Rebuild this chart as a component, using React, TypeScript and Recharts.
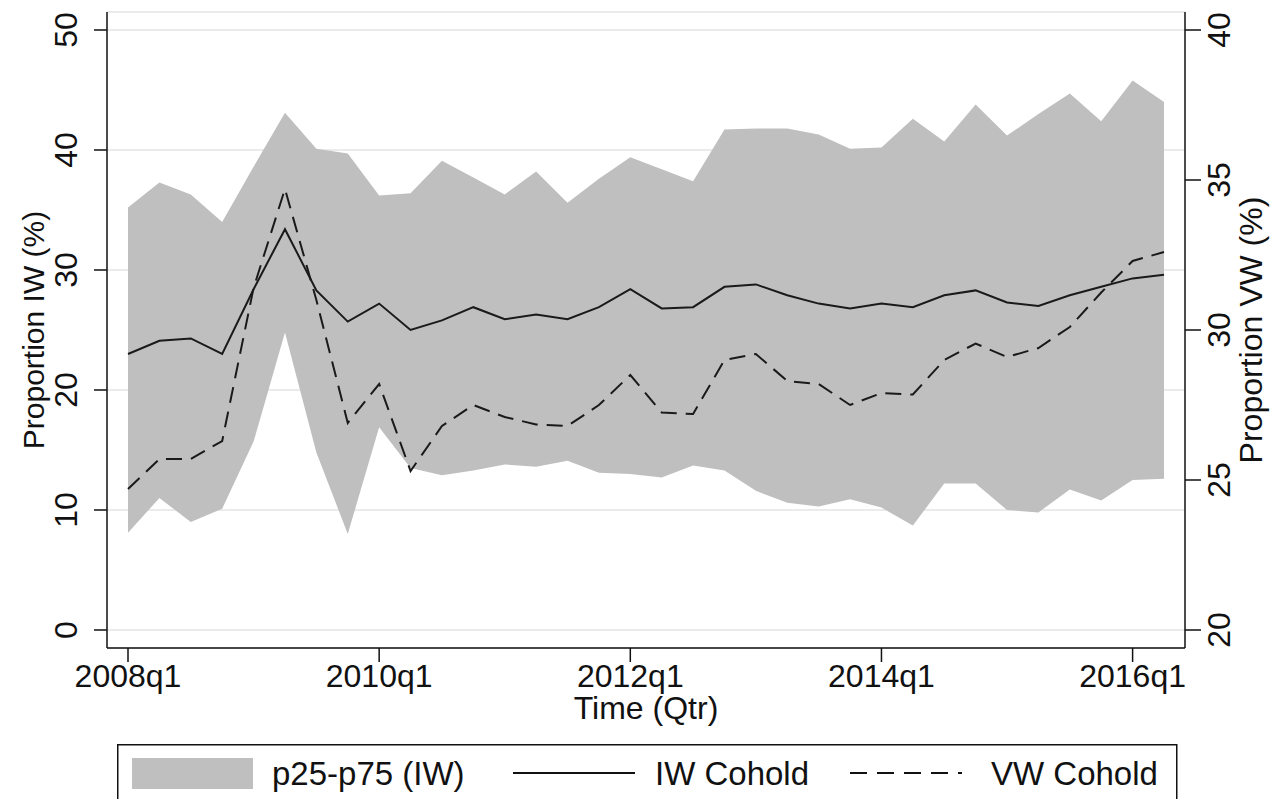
import React from "react";
import {
  Area,
  CartesianGrid,
  ComposedChart,
  Label,
  Legend,
  Line,
  XAxis,
  YAxis,
} from "recharts";

const quarters = [
  "2008q1", "2008q2", "2008q3", "2008q4", "2009q1", "2009q2", "2009q3", "2009q4",
  "2010q1", "2010q2", "2010q3", "2010q4", "2011q1", "2011q2", "2011q3", "2011q4",
  "2012q1", "2012q2", "2012q3", "2012q4", "2013q1", "2013q2", "2013q3", "2013q4",
  "2014q1", "2014q2", "2014q3", "2014q4", "2015q1", "2015q2", "2015q3", "2015q4",
  "2016q1", "2016q2",
];

// p25 / p75 of IW cohold (left axis)
const iwP25 = [
  8.1, 11.0, 9.0, 10.1, 15.7, 24.8, 14.8, 8.0, 16.9, 13.5, 12.9, 13.3, 13.8, 13.6, 14.1, 13.1,
  13.0, 12.7, 13.7, 13.3, 11.6, 10.6, 10.3, 10.9, 10.2, 8.7, 12.2, 12.2, 10.0, 9.8, 11.7, 10.8,
  12.5, 12.6,
];
const iwP75 = [
  35.2, 37.3, 36.3, 34.0, 38.6, 43.1, 40.1, 39.7, 36.2, 36.4, 39.1, 37.7, 36.3, 38.2, 35.6, 37.6,
  39.4, 38.4, 37.4, 41.7, 41.8, 41.8, 41.3, 40.1, 40.2, 42.6, 40.7, 43.8, 41.2, 43.0, 44.7, 42.4,
  45.8, 44.0,
];
const iwCohold = [
  23.0, 24.1, 24.3, 23.0, 28.4, 33.4, 28.3, 25.7, 27.2, 25.0, 25.8, 26.9, 25.9, 26.3, 25.9, 26.9,
  28.4, 26.8, 26.9, 28.6, 28.8, 27.9, 27.2, 26.8, 27.2, 26.9, 27.9, 28.3, 27.3, 27.0, 27.9, 28.6,
  29.3, 29.6,
];
// right axis
const vwCohold = [
  24.7, 25.7, 25.7, 26.3, 31.4, 34.7, 31.0, 26.9, 28.2, 25.3, 26.8, 27.5, 27.1, 26.85, 26.8, 27.5,
  28.5, 27.25, 27.2, 29.0, 29.2, 28.3, 28.2, 27.5, 27.9, 27.85, 29.0, 29.55, 29.1, 29.4, 30.1, 31.25,
  32.3, 32.6,
];

const xTicks = ["2008q1", "2010q1", "2012q1", "2014q1", "2016q1"];
const leftTicks = [0, 10, 20, 30, 40, 50];
const rightTicks = [20, 25, 30, 35, 40];

const data = quarters.map((q, i) => ({
  q,
  band: [iwP25[i], iwP75[i]],
  iw: iwCohold[i],
  vw: vwCohold[i],
}));

const ink = "#111";
const font = "'Liberation Sans', Arial, sans-serif";

const LeftTick = ({ x, y, payload }: any) => (
  <text x={x - 15} y={y} transform={`rotate(-90, ${x - 15}, ${y})`} textAnchor="middle" fontSize={32} fill={ink}>
    {payload.value}
  </text>
);

const RightTick = ({ x, y, payload }: any) => (
  <text x={x + 27} y={y} transform={`rotate(-90, ${x + 27}, ${y})`} textAnchor="middle" fontSize={32} fill={ink}>
    {payload.value}
  </text>
);

const yTitle = (text: string, dx: number, size: number) => (props: any) => {
  const { x, y, height } = props.viewBox;
  const cx = x + dx;
  const cy = y + height / 2;
  return (
    <text x={cx} y={cy} transform={`rotate(-90, ${cx}, ${cy})`} textAnchor="middle" fontSize={size} fill={ink}>
      {text}
    </text>
  );
};

const LegendBox = ({ payload }: any) => {
  const items = payload || [];
  const name = (key: string) => {
    const it = items.find((p: any) => p.dataKey === key);
    return it ? it.value : "";
  };
  return (
    <svg width={1062} height={70} style={{ display: "block", fontFamily: font }}>
      <rect x={0.75} y={0.75} width={1059} height={80} fill="#fff" stroke={ink} strokeWidth={1.5} />
      <rect x={15} y={14} width={121} height={31} fill="#bfbfbf" />
      <text x={155} y={41} fontSize={33} fill={ink}>{name("band")}</text>
      <line x1={396} y1={29} x2={518} y2={29} stroke={ink} strokeWidth={2} />
      <text x={538} y={41} fontSize={33} fill={ink}>{name("iw")}</text>
      <line x1={733} y1={29} x2={845} y2={29} stroke={ink} strokeWidth={2} strokeDasharray="17 10" />
      <text x={874} y={41} fontSize={33} fill={ink}>{name("vw")}</text>
    </svg>
  );
};

export default function App() {
  return (
    <div style={{ position: "absolute", left: 0, top: 0, fontFamily: font }}>
      <ComposedChart
        width={1279}
        height={799}
        data={data}
        margin={{ top: 12, right: 0, bottom: 0, left: 0 }}
        style={{ fontFamily: font }}
      >
        <CartesianGrid yAxisId="left" vertical={false} stroke="#e4e4e4" strokeWidth={1.5} />
        <XAxis
          dataKey="q"
          ticks={xTicks}
          interval={0}
          padding={{ left: 21, right: 21 }}
          height={151}
          tickSize={14}
          tick={{ fontSize: 32, fill: ink }}
          axisLine={{ stroke: ink, strokeWidth: 1.5 }}
          tickLine={{ stroke: ink, strokeWidth: 1.5 }}
        >
          <Label value="Time (Qtr)" position="insideBottom" offset={80} fontSize={32} fill={ink} />
        </XAxis>
        <XAxis
          xAxisId="top"
          dataKey="q"
          orientation="top"
          height={0}
          tick={false}
          tickLine={false}
          axisLine={{ stroke: ink, strokeWidth: 1.5 }}
        />
        <YAxis
          yAxisId="left"
          domain={[0, 50]}
          ticks={leftTicks}
          width={107}
          padding={{ top: 18, bottom: 18 }}
          tickSize={13}
          tick={<LeftTick />}
          axisLine={{ stroke: ink, strokeWidth: 1.5 }}
          tickLine={{ stroke: ink, strokeWidth: 1.5 }}
        >
          <Label content={yTitle("Proportion IW (%)", 44, 30)} />
        </YAxis>
        <YAxis
          yAxisId="right"
          orientation="right"
          domain={[20, 40]}
          ticks={rightTicks}
          width={94}
          padding={{ top: 18, bottom: 18 }}
          tickSize={16}
          tick={<RightTick />}
          axisLine={{ stroke: ink, strokeWidth: 1.5 }}
          tickLine={{ stroke: ink, strokeWidth: 1.5 }}
        >
          <Label content={yTitle("Proportion VW (%)", 77, 32)} />
        </YAxis>
        <Area
          yAxisId="left"
          type="linear"
          dataKey="band"
          name="p25-p75 (IW)"
          fill="#bfbfbf"
          fillOpacity={1}
          stroke="none"
          isAnimationActive={false}
        />
        <Line
          yAxisId="left"
          type="linear"
          dataKey="iw"
          name="IW Cohold"
          stroke="#1a1a1a"
          strokeWidth={2}
          dot={false}
          activeDot={false}
          isAnimationActive={false}
        />
        <Line
          yAxisId="right"
          type="linear"
          dataKey="vw"
          name="VW Cohold"
          stroke="#1a1a1a"
          strokeWidth={2}
          strokeDasharray="16 9"
          dot={false}
          activeDot={false}
          isAnimationActive={false}
        />
        <Legend
          layout="horizontal"
          align="center"
          verticalAlign="middle"
          content={<LegendBox />}
          wrapperStyle={{ left: 117, top: 744, width: 1062, height: 70 }}
        />
      </ComposedChart>
    </div>
  );
}
